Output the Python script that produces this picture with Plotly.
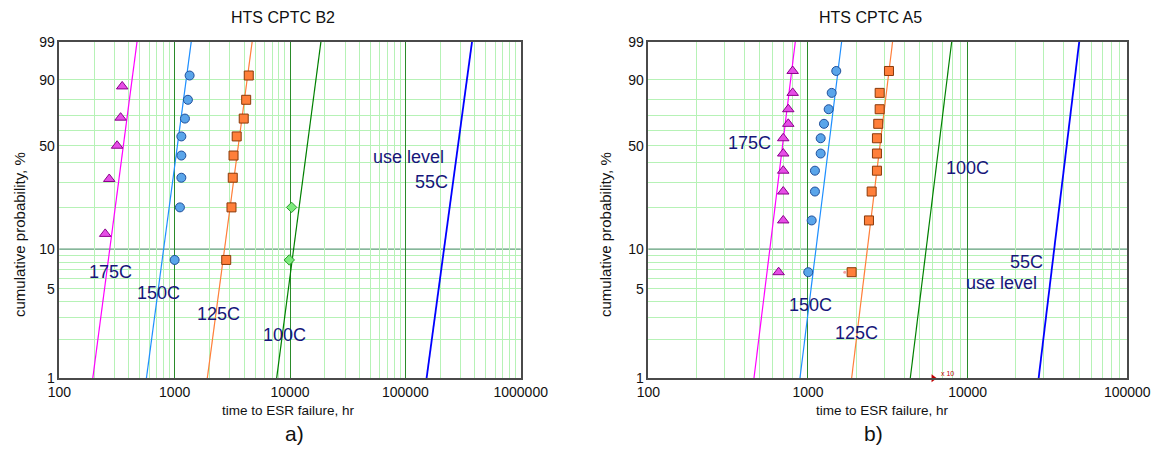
import numpy as np
import plotly.graph_objects as go

# ---------------- data ----------------
# Panel a) HTS CPTC B2
F_B2_175 = [13, 31.5, 50, 68.5, 87]
t_B2_175 = [250, 271, 317, 340, 351]
F_B2_8 = [8.3, 20.2, 32.1, 44, 56, 67.9, 79.8, 91.7]
t_B2_150 = [1000, 1111, 1143, 1143, 1143, 1228, 1303, 1348]
t_B2_125 = [2800, 3110, 3190, 3240, 3450, 3970, 4170, 4390]
F_B2_100 = [8.3, 20.2]
t_B2_100 = [9860, 10330]

# fitted lines: time at 1 % and 99 %
F_line = [1, 99]
line_B2_175 = [195, 472]
line_B2_150 = [569, 1393]
line_B2_125 = [1918, 4700]
line_B2_100 = [7655, 18540]
line_B2_55 = [152700, 378500]

# Panel b) HTS CPTC A5
F_A5 = [6.7, 16.3, 26, 35.6, 45.2, 54.8, 64.4, 74, 83.7, 93.3]
t_A5_175 = [655, 700, 700, 700, 700, 700, 753, 753, 802, 802]
t_A5_150 = [1004, 1055, 1106, 1106, 1201, 1201, 1260, 1348, 1408, 1504]
t_A5_125 = [1877, 2410, 2506, 2704, 2704, 2704, 2755, 2812, 2812, 3216]

line_A5_175 = [459, 833]
line_A5_150 = [891, 1625]
line_A5_125 = [1877, 3388]
line_A5_100 = [4372, 7943]
line_A5_55 = [27830, 50000]

censor_t = [6095]
censor_F = [1]
dot_t = [1700]
dot_F = [6.7]

# axis ticks
y_ticks = [1, 5, 10, 50, 90, 99]
y_grid_light = [2, 3, 4, 5, 6, 7, 8, 9, 20, 30, 40, 50, 60, 70, 80, 90]
y_grid_dark = 10
x_ticks_a = [100, 1000, 10000, 100000, 1000000]
x_ticks_b = [100, 1000, 10000, 100000]


def wb(F):
    """Weibull probability-paper transform."""
    F = np.asarray(F, dtype=float) / 100.0
    return np.log(-np.log(1.0 - F))


W, H = 1151, 449
NAVY = "#16167a"
FONT = "Liberation Sans, Arial, sans-serif"

C175, C150, C125, C100, C55 = "#ff00ff", "#1e8fff", "#ff7f3a", "#008000", "#0000ff"

fig = go.Figure()


def add_panel(xa, ya, pts, lines):
    for t, col, wdt in lines:
        fig.add_trace(go.Scatter(
            x=t, y=wb(F_line), mode="lines", xaxis=xa, yaxis=ya,
            line=dict(color=col, width=wdt), showlegend=False,
            hoverinfo="skip"))
    for t, F, sym, fill, edge, size in pts:
        fig.add_trace(go.Scatter(
            x=t, y=wb(F), mode="markers", xaxis=xa, yaxis=ya,
            marker=dict(symbol=sym, size=size, color=fill,
                        line=dict(color=edge, width=1)),
            showlegend=False, hoverinfo="skip", cliponaxis=False))


add_panel("x", "y",
          [(t_B2_175, F_B2_175, "triangle-up", "#e64ee6", "#8b008b", 10),
           (t_B2_150, F_B2_8, "circle", "#5aa5ea", "#1f4f9a", 9),
           (t_B2_125, F_B2_8, "square", "#ff7f3a", "#8a3a0a", 9),
           (t_B2_100, F_B2_100, "diamond", "#7deb7d", "#2a9a2a", 8)],
          [(line_B2_175, C175, 1.2), (line_B2_150, C150, 1.2),
           (line_B2_125, C125, 1.2), (line_B2_100, C100, 1.2),
           (line_B2_55, C55, 1.8)])

add_panel("x2", "y2",
          [(t_A5_175, F_A5, "triangle-up", "#e64ee6", "#8b008b", 10),
           (t_A5_150, F_A5, "circle", "#5aa5ea", "#1f4f9a", 9),
           (t_A5_125, F_A5, "square", "#ff7f3a", "#8a3a0a", 9)],
          [(line_A5_175, C175, 1.2), (line_A5_150, C150, 1.2),
           (line_A5_125, C125, 1.2), (line_A5_100, C100, 1.2),
           (line_A5_55, C55, 1.8)])

fig.add_trace(go.Scatter(x=censor_t, y=wb(censor_F), mode="markers",
                         xaxis="x2", yaxis="y2", cliponaxis=False,
                         marker=dict(symbol="triangle-right", size=7, color="#c00000"),
                         showlegend=False, hoverinfo="skip"))
fig.add_trace(go.Scatter(x=dot_t, y=wb(dot_F), mode="markers",
                         xaxis="x2", yaxis="y2",
                         marker=dict(symbol="circle", size=3, color="#f4a0a0"),
                         showlegend=False, hoverinfo="skip"))


def minor_vals(lo, hi):
    return [m * 10 ** k for k in range(lo, hi) for m in range(2, 10)]


def xaxis(domain, ticks, lo, hi, anchor):
    return dict(domain=domain, anchor=anchor, type="log", range=[lo, hi],
                tickvals=ticks, ticktext=[str(v) for v in ticks],
                showgrid=True, gridcolor="#2a8a2a", gridwidth=1,
                minor=dict(tickvals=minor_vals(lo, hi), showgrid=True,
                           gridcolor="#b6f2b6", gridwidth=1, ticks=""),
                showline=True, linecolor="#4a4a4a", linewidth=1.5, mirror=True,
                ticks="", zeroline=False, automargin=False,
                tickfont=dict(family=FONT, size=14, color="#111"))


def yaxis(domain, anchor):
    return dict(domain=domain, anchor=anchor,
                range=[float(wb([1])[0]), float(wb([99])[0])],
                tickvals=list(wb(y_ticks)), ticktext=[str(v) for v in y_ticks],
                showgrid=False,
                minor=dict(tickvals=list(wb(y_grid_light)), showgrid=True,
                           gridcolor="#b6f2b6", gridwidth=1, ticks=""),
                showline=True, linecolor="#4a4a4a", linewidth=1.5, mirror=True,
                ticks="", zeroline=False, automargin=False,
                tickfont=dict(family=FONT, size=14, color="#111"))


ydom = [1 - 378.3 / H, 1 - 41.7 / H]
fig.update_layout(
    width=W, height=H, margin=dict(l=0, r=0, t=0, b=0, autoexpand=False),
    paper_bgcolor="white", plot_bgcolor="white",
    xaxis=xaxis([59.3 / W, 520.7 / W], x_ticks_a, 2, 6, "y"),
    yaxis=yaxis(ydom, "x"),
    xaxis2=xaxis([648.3 / W, 1127.3 / W], x_ticks_b, 2, 5, "y2"),
    yaxis2=yaxis(ydom, "x2"),
)

# darker 10 % gridline (drawn under the traces)
y10 = float(wb([y_grid_dark])[0])
for xr, yr in (("x", "y"), ("x2", "y2")):
    fig.add_shape(type="line", xref=f"{xr} domain", yref=yr, x0=0, x1=1,
                  y0=y10, y1=y10,
                  line=dict(color="#5e9e78", width=1.2), layer="below")


def ann(px, py, text, size, color=NAVY, angle=0):
    fig.add_annotation(x=px / W, y=1 - py / H, xref="paper", yref="paper",
                       text=text, showarrow=False, textangle=angle,
                       xanchor="center", yanchor="middle",
                       font=dict(family=FONT, size=size, color=color))


# curve labels
for px, py, t in [(110, 271.7, "175C"), (158.3, 293.3, "150C"),
                  (218.3, 314, "125C"), (284.3, 335, "100C"),
                  (408.3, 157.3, "use level"), (431.7, 181.7, "55C"),
                  (749, 143.3, "175C"), (810.7, 305, "150C"),
                  (856, 333.3, "125C"), (967.3, 167.7, "100C"),
                  (1026.7, 261.7, "55C"), (1001.7, 283.3, "use level")]:
    ann(px, py, t, 18)

ann(282.5, 18, "HTS CPTC B2", 16, "#111")
ann(870.7, 18, "HTS CPTC A5", 16, "#111")
ann(288, 410, "time to ESR failure, hr", 13.5, "#111")
ann(882, 410, "time to ESR failure, hr", 13.5, "#111")
ann(294, 433, "a)", 21, "#111")
ann(873, 433, "b)", 21, "#111")
ann(19, 235, "cumulative probability, %", 15, "#111", -90)
ann(605, 235, "cumulative probability, %", 15, "#111", -90)
ann(947, 373, "x 10", 7, "#c00000")

fig.write_html("out.html")
